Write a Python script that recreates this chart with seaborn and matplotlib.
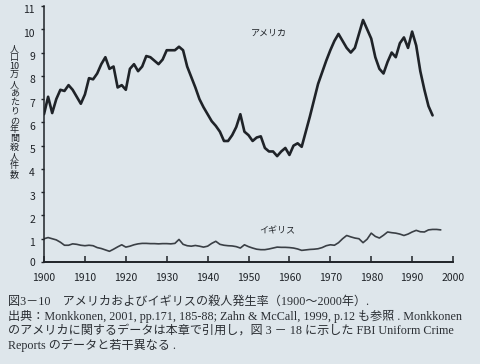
import numpy as np
import pandas as pd
import matplotlib
matplotlib.use("Agg")
import matplotlib.pyplot as plt
from matplotlib.transforms import ScaledTranslation
import seaborn as sns

# ---- data ----
us_years = list(range(1900, 1996))
us_rate = [6.35, 7.1, 6.4, 7.0, 7.4, 7.35, 7.6, 7.4, 7.1, 6.8,
           7.2, 7.9, 7.85, 8.1, 8.5, 8.8, 8.3, 8.4, 7.5, 7.6,
           7.4, 8.3, 8.5, 8.2, 8.4, 8.85, 8.8, 8.65, 8.5, 8.7,
           9.1, 9.1, 9.1, 9.25, 9.1, 8.4, 7.95, 7.5, 7.0, 6.65,
           6.35, 6.05, 5.85, 5.6, 5.2, 5.2, 5.45, 5.8, 6.35, 5.6,
           5.45, 5.2, 5.35, 5.4, 4.9, 4.75, 4.75, 4.55, 4.75, 4.9,
           4.6, 5.0, 5.1, 4.95, 5.6, 6.25, 6.95, 7.65, 8.15, 8.65,
           9.1, 9.5, 9.8, 9.5, 9.2, 9.0, 9.2, 9.8, 10.4, 10.0,
           9.6, 8.8, 8.3, 8.1, 8.6, 9.0, 8.8, 9.4, 9.65, 9.2,
           9.9, 9.3, 8.2, 7.4, 6.7, 6.3]
uk_years = list(range(1900, 1998))
uk_rate = [1.0, 1.05, 1.0, 0.95, 0.85, 0.72, 0.72, 0.78, 0.76, 0.72,
           0.7, 0.72, 0.7, 0.62, 0.58, 0.52, 0.46, 0.55, 0.65, 0.74,
           0.64, 0.68, 0.74, 0.78, 0.8, 0.8, 0.79, 0.79, 0.78, 0.79,
           0.79, 0.78, 0.8, 0.97, 0.76, 0.7, 0.68, 0.71, 0.68, 0.64,
           0.68, 0.8, 0.89, 0.76, 0.72, 0.7, 0.69, 0.66, 0.6, 0.74,
           0.66, 0.6, 0.55, 0.53, 0.53, 0.56, 0.6, 0.64, 0.63, 0.63,
           0.62, 0.6, 0.56, 0.5, 0.52, 0.54, 0.55, 0.57, 0.62, 0.7,
           0.74, 0.72, 0.83, 1.0, 1.14, 1.08, 1.03, 1.0, 0.83, 0.98,
           1.24, 1.1, 1.03, 1.15, 1.29, 1.26, 1.24, 1.2, 1.14, 1.2,
           1.29, 1.36, 1.3, 1.29, 1.38, 1.4, 1.4, 1.38]
x_ticks = list(range(1900, 2001, 10))
y_ticks = list(range(0, 12))
us_label = "アメリカ"
uk_label = "イギリス"
y_title_chars = ["人", "口", "10", "万", "人", "あ", "た", "り", "の",
                 "年", "間", "殺", "人", "件", "数"]
caption = [
    "図3－10　アメリカおよびイギリスの殺人発生率（1900～2000年）.",
    "出典：Monkkonen, 2001, pp.171, 185-88; Zahn & McCall, 1999, p.12 も参照 . Monkkonen",
    "のアメリカに関するデータは本章で引用し，図 3 － 18 に示した FBI Uniform Crime",
    "Reports のデータと若干異なる .",
]

df_us = pd.DataFrame({"year": us_years, "rate": us_rate})
df_uk = pd.DataFrame({"year": uk_years, "rate": uk_rate})

sns.set_theme(style="ticks")
plt.rcParams["font.family"] = ["Noto Sans CJK JP", "DejaVu Sans"]

bg = "#dee6eb"
ink = "#1f2328"
fig = plt.figure(figsize=(4.8, 3.64), dpi=100, facecolor=bg)
ax = fig.add_axes([0.0917, 0.2802, 0.8521, 0.7033])
ax.set_facecolor(bg)

sns.lineplot(data=df_us, x="year", y="rate", ax=ax, color=ink, lw=1.9)
sns.lineplot(data=df_uk, x="year", y="rate", ax=ax, color="#3a3f45", lw=1.2)

ax.set_xlim(1900, 2000)
ax.set_ylim(0, 11)
ax.set_xticks(x_ticks)
ax.set_yticks(y_ticks)
ax.set_xticklabels([str(t) for t in x_ticks])
ax.set_yticklabels([str(t) for t in y_ticks])
for lab in ax.get_xticklabels():
    if lab.get_text() == "2000":
        lab.set_fontsize(6.5)
        lab.set_transform(lab.get_transform() +
                          ScaledTranslation(0, 2 / 72, fig.dpi_scale_trans))
ax.set_xlabel("")
ax.set_ylabel("")
for s in ["top", "right"]:
    ax.spines[s].set_visible(False)
for s in ["left", "bottom"]:
    ax.spines[s].set_color(ink)
ax.spines["left"].set_linewidth(1.1)
ax.spines["bottom"].set_linewidth(1.4)
ax.tick_params(axis="x", direction="in", length=4, width=1.1, color=ink,
               labelsize=7.5, labelcolor=ink, pad=8)
ax.tick_params(axis="y", direction="out", length=2.5, width=1.0, color=ink,
               labelsize=7.5, labelcolor=ink, pad=4)
for lab in ax.get_yticklabels():
    if lab.get_text() != "0":
        lab.set_transform(lab.get_transform() +
                          ScaledTranslation(0, -2.5 / 72, fig.dpi_scale_trans))

ax.text(1955, 9.85, us_label, fontsize=6.5, color=ink, ha="center", va="center")
ax.text(1957, 1.33, uk_label, fontsize=6.5, color=ink, ha="center", va="center")

fig.text(0.03, 1 - 44 / 364, "\n".join(y_title_chars),
         fontsize=6.5, color=ink, ha="center", va="top", linespacing=1.0)

cap_y = [302, 316, 331, 345]
for txt, yy in zip(caption, cap_y):
    fig.text(8 / 480, 1 - yy / 364, txt, fontsize=8.7, color="#2a2e33",
             ha="left", va="center",
             family=["Liberation Serif", "Noto Sans CJK JP"])

fig.savefig("out.png", dpi=100, facecolor=bg)
